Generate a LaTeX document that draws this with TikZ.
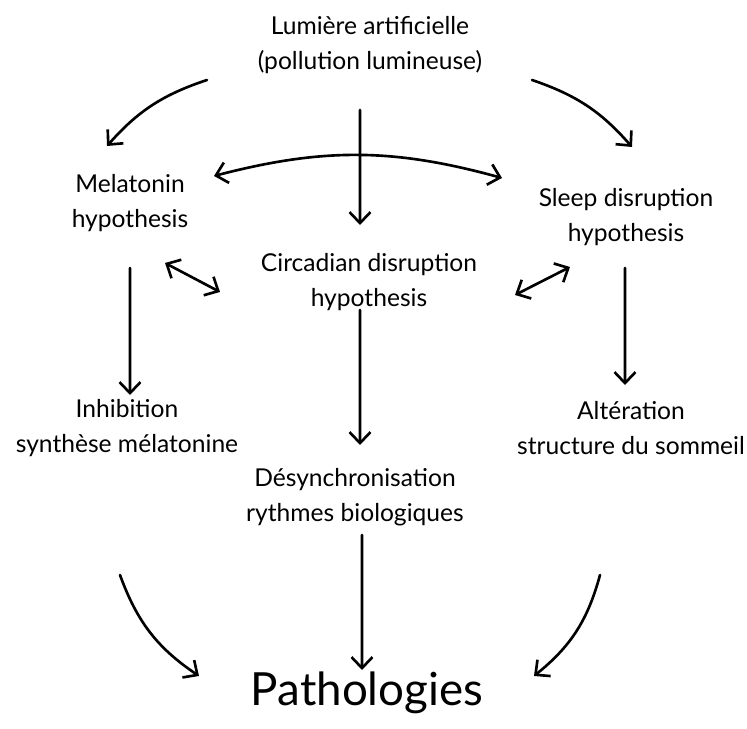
\documentclass[tikz,border=0pt]{standalone}
\usepackage{fontspec}
\setmainfont{Lato}
\usetikzlibrary{arrows.meta,calc}

\begin{document}
\begin{tikzpicture}[
        label/.style={align=center, font=\fontsize{14}{20}\selectfont, inner sep=0pt},
        big/.style={font=\fontsize{26}{30}\selectfont, inner sep=0pt},
        link/.style={line width=1.5pt, line cap=round},
        >={Straight Barb[length=2.2mm, width=4.2mm, line width=1.5pt]}
    ]
        \useasboundingbox (0,0) rectangle (14.94,14.58);

        % Source
        \node[label] (lum) at (7.4, 13.68) {Lumière artificielle\\(pollution lumineuse)};

        % Hypotheses
        \node[label] (mel) at (2.6, 10.52) {Melatonin\\hypothesis};
        \node[label] (circ) at (7.38, 8.94) {Circadian disruption\\hypothesis};
        \node[label] (sleep) at (12.52, 10.24) {Sleep disruption\\hypothesis};

        % Effects
        \node[label] (inhib) at (2.54, 6.02) {Inhibition\\synthèse mélatonine};
        \node[label] (desyn) at (7.1, 4.64) {Désynchronisation\\rythmes biologiques};
        \node[label] (alter) at (12.62, 6.02) {Altération\\structure du sommeil};

        % Outcome
        \node[big] (path) at (7.34, 0.72) {Pathologies};

        % Connections from the source
        \draw[link, ->] ($(lum)+(-3.26,-0.70)$) to[bend right=15] ($(mel)+(-0.46,1.14)$);
        \draw[link, ->] ($(lum)+(3.24,-0.70)$) to[bend left=15] ($(sleep)+(0.12,1.40)$);
        \draw[link, ->] ($(lum)+(-0.2,-1.3)$) -- ($(circ)+(-0.18,1.14)$);

        % Links between hypotheses
        \draw[link, <->] ($(mel)+(1.68,0.54)$) to[bend left=15] ($(sleep)+(-2.48,0.78)$);
        \draw[link, <->] ($(mel)+(0.7,-1.2)$) -- ($(circ)+(-2.98,-0.2)$);
        \draw[link, <->] ($(circ)+(2.92,-0.26)$) -- ($(sleep)+(-1.12,-1.0)$);

        % Hypotheses to effects
        \draw[link, ->] ($(mel)+(0,-1.3)$) -- ($(inhib)+(0.06,0.66)$);
        \draw[link, ->] ($(circ)+(-0.18,-0.56)$) -- ($(desyn)+(0.1,1.04)$);
        \draw[link, ->] ($(sleep)+(-0.02,-1.02)$) -- ($(alter)+(-0.12,0.86)$);

        % Effects to outcome
        \draw[link, ->] ($(inhib)+(-0.14,-2.94)$) to[bend right=18] ($(path)+(-3.36,0.34)$);
        \draw[link, ->] ($(desyn)+(0.14,-0.76)$) -- ($(path)+(-0.1,0.46)$);
        \draw[link, ->] ($(alter)+(-0.62,-2.94)$) to[bend left=18] ($(path)+(3.34,0.34)$);
    \end{tikzpicture}
\end{document}
